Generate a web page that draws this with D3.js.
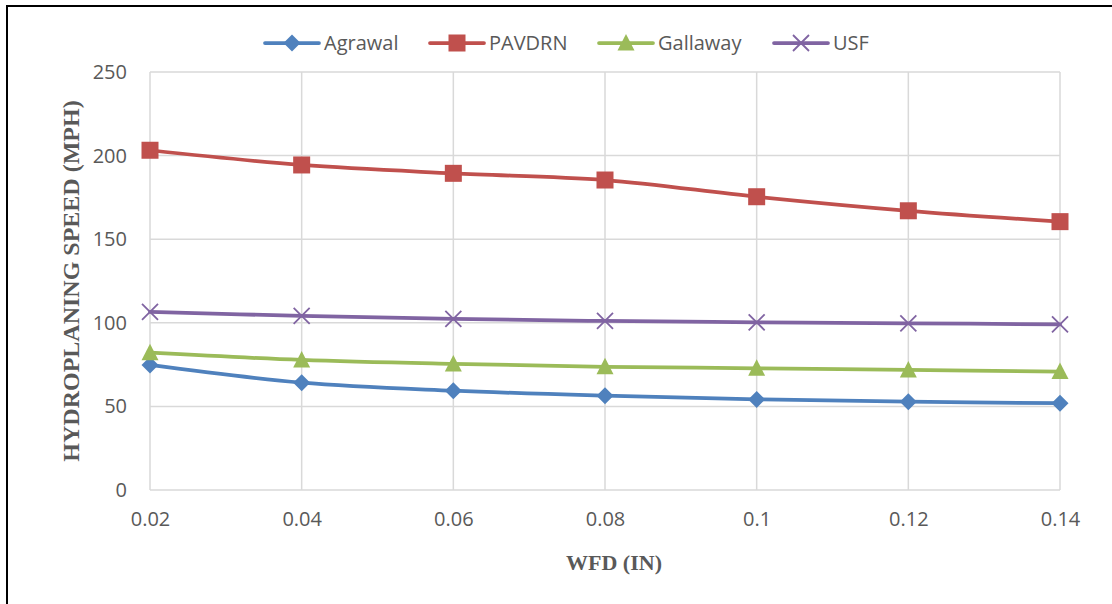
<!DOCTYPE html>
<html>
<head>
<meta charset="utf-8">
<script src="https://cdn.jsdelivr.net/npm/d3@7"></script>
<style>
    body { margin: 0; background: #fff; }
    svg { display: block; }
</style>
</head>
<body>
<svg id="chart" width="1112" height="604"></svg>
<script>
// --- Data ---
const wfd = [0.02, 0.04, 0.06, 0.08, 0.1, 0.12, 0.14];
const agrawal = [74.8, 64.2, 59.4, 56.4, 54.2, 52.8, 51.9];
const pavdrn = [203.2, 194.4, 189.4, 185.4, 175.4, 167.0, 160.5];
const gallaway = [82.1, 77.8, 75.4, 73.7, 72.8, 71.8, 70.8];
const usf = [106.6, 104.1, 102.3, 101.1, 100.3, 99.7, 99.1];
const yTicks = [0, 50, 100, 150, 200, 250];

const series = [
    { name: 'Agrawal', values: agrawal, color: '#4F81BD', symbol: 'diamond' },
    { name: 'PAVDRN', values: pavdrn, color: '#C0504D', symbol: 'square' },
    { name: 'Gallaway', values: gallaway, color: '#9BBB59', symbol: 'triangle' },
    { name: 'USF', values: usf, color: '#8064A2', symbol: 'cross' }
];

const svg = d3.select('#chart');
const plotLeft = 150, plotRight = 1060, plotTop = 72, plotBottom = 490;

// outer frame (top and left edges only visible)
svg.append('line').attr('x1', 7).attr('x2', 1112).attr('y1', 6).attr('y2', 6)
    .attr('stroke', '#000').attr('stroke-width', 2);
svg.append('line').attr('x1', 7).attr('x2', 7).attr('y1', 5).attr('y2', 604)
    .attr('stroke', '#000').attr('stroke-width', 2);

// --- Scales ---
const x = d3.scalePoint().domain(wfd).range([plotLeft, plotRight]);
const y = d3.scaleLinear().domain([0, 250]).range([plotBottom, plotTop]);

// --- Grid ---
const grid = svg.append('g');
grid.selectAll('line.h').data(yTicks).join('line').attr('class', 'h')
    .attr('x1', plotLeft).attr('x2', plotRight)
    .attr('y1', d => y(d)).attr('y2', d => y(d))
    .attr('stroke', '#d9d9d9').attr('stroke-width', 1.5);
grid.selectAll('line.v').data(wfd).join('line').attr('class', 'v')
    .attr('x1', d => x(d)).attr('x2', d => x(d))
    .attr('y1', plotTop).attr('y2', plotBottom)
    .attr('stroke', '#d9d9d9').attr('stroke-width', 1.5);

// --- Axes ---
const yAxis = svg.append('g').attr('transform', `translate(${plotLeft},0)`)
    .call(d3.axisLeft(y).tickValues(yTicks).tickSize(0).tickPadding(23));
const xAxis = svg.append('g').attr('transform', `translate(0,${plotBottom})`)
    .call(d3.axisBottom(x).tickFormat(d => String(d)).tickSize(0).tickPadding(22));
[yAxis, xAxis].forEach(a => {
    a.select('.domain').remove();
    a.selectAll('text')
        .attr('font-family', '"Open Sans", "Liberation Sans", sans-serif')
        .attr('font-size', 20)
        .attr('fill', '#595959');
});

// --- Axis titles ---
svg.append('text')
    .attr('transform', 'translate(79,281) rotate(-90)')
    .attr('text-anchor', 'middle')
    .attr('font-family', '"Liberation Serif", "Times New Roman", serif')
    .attr('font-weight', 'bold')
    .attr('font-size', 24)
    .attr('fill', '#595959')
    .text('HYDROPLANING SPEED (MPH)');

svg.append('text')
    .attr('x', 614).attr('y', 570)
    .attr('text-anchor', 'middle')
    .attr('font-family', '"Liberation Serif", "Times New Roman", serif')
    .attr('font-weight', 'bold')
    .attr('font-size', 22)
    .attr('fill', '#595959')
    .text('WFD (IN)');

// --- Markers ---
function marker(sel, s) {
    if (s.symbol === 'diamond') {
        sel.append('path').attr('d', 'M0,-8.5L8.5,0L0,8.5L-8.5,0Z').attr('fill', s.color);
    } else if (s.symbol === 'square') {
        sel.append('rect').attr('x', -8.5).attr('y', -8.5).attr('width', 17).attr('height', 17)
            .attr('fill', s.color);
    } else if (s.symbol === 'triangle') {
        sel.append('path').attr('d', 'M0,-9L8.5,7.5L-8.5,7.5Z').attr('fill', s.color);
    } else {
        sel.append('path').attr('d', 'M-8,-8L8,8M-8,8L8,-8')
            .attr('stroke', s.color).attr('stroke-width', 1.8).attr('fill', 'none');
    }
}

// --- Lines ---
const line = d3.line()
    .x((d, i) => x(wfd[i]))
    .y(d => y(d))
    .curve(d3.curveCatmullRom.alpha(0));

const plot = svg.append('g');
series.forEach(s => {
    const g = plot.append('g');
    g.append('path')
        .attr('d', line(s.values))
        .attr('fill', 'none')
        .attr('stroke', s.color)
        .attr('stroke-width', 3.75)
        .attr('stroke-linejoin', 'round')
        .attr('stroke-linecap', 'round');
    s.values.forEach((v, i) => {
        const m = g.append('g').attr('transform', `translate(${x(wfd[i])},${y(v)})`);
        marker(m, s);
    });
});

// --- Legend ---
const legendX = [265, 430, 599, 774];
const legend = svg.append('g');
series.forEach((s, i) => {
    const g = legend.append('g').attr('transform', `translate(${legendX[i]},43)`);
    g.append('line').attr('x1', 0).attr('x2', 54).attr('y1', 0).attr('y2', 0)
        .attr('stroke', s.color).attr('stroke-width', 3.75).attr('stroke-linecap', 'round');
    const m = g.append('g').attr('transform', 'translate(27,0)');
    marker(m, s);
    g.append('text')
        .attr('x', 59).attr('y', 7)
        .attr('font-family', '"Open Sans", "Liberation Sans", sans-serif')
        .attr('font-size', 20)
        .attr('fill', '#595959')
        .text(s.name);
});
</script>
</body>
</html>
